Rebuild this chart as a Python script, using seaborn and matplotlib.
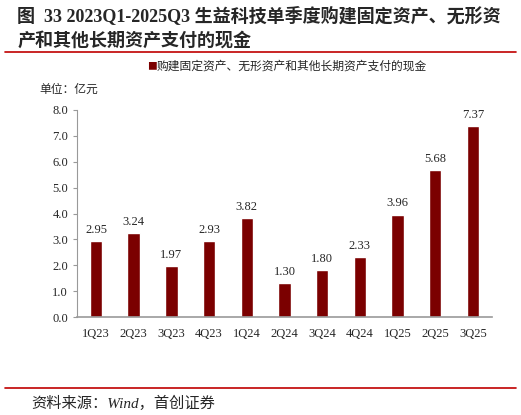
import matplotlib
matplotlib.use("Agg")
import matplotlib.pyplot as plt
import pandas as pd
import seaborn as sns
from matplotlib.lines import Line2D

quarters = ["1Q23", "2Q23", "3Q23", "4Q23", "1Q24", "2Q24", "3Q24", "4Q24", "1Q25", "2Q25", "3Q25"]
values = [2.95, 3.24, 1.97, 2.93, 3.82, 1.30, 1.80, 2.33, 3.96, 5.68, 7.37]
series_name = "购建固定资产、无形资产和其他长期资产支付的现金"

sns.set_style("white")
plt.rcParams["font.family"] = ["Noto Sans CJK SC", "DejaVu Sans"]
serif = ["Liberation Serif", "Noto Sans CJK SC"]
bar_color = "#7B0000"

df = pd.DataFrame({"quarter": quarters, "value": values})

fig = plt.figure(figsize=(5.21, 4.15), dpi=100)
ax = fig.add_axes([0.148, 0.236, 0.796, 0.499])
sns.barplot(data=df, x="quarter", y="value", color=bar_color, width=0.33, saturation=1, ax=ax)

ax.set_ylim(0, 8)
ax.set_yticks([i for i in range(9)])
ax.set_yticklabels([f"{i:.1f}" for i in range(9)], family=serif, fontsize=9)
ax.set_xticks(range(len(quarters)))
ax.set_xticklabels(quarters, family=serif, fontsize=9)
ax.set_xlabel("")
ax.set_ylabel("")
ax.tick_params(axis="y", length=3, color="#999999", direction="out", left=True)
ax.tick_params(axis="x", length=0, pad=8)
for s in ["top", "right"]:
    ax.spines[s].set_visible(False)
ax.spines["left"].set_color("#999999")
ax.spines["bottom"].set_color("#999999")
ax.spines["bottom"].set_linewidth(1.2)

for i, v in enumerate(values):
    ax.text(i, v + 0.2, f"{v:.2f}", ha="center", va="bottom", fontsize=9, family=serif)

fig.text(0.033, 0.962, "图  33 2023Q1-2025Q3 生益科技单季度购建固定资产、无形资", fontsize=13, weight="bold", va="center", family=serif)
fig.text(0.033, 0.903, "产和其他长期资产支付的现金", fontsize=13, weight="bold", va="center", family=serif)
fig.add_artist(Line2D([0.01, 0.99], [0.875, 0.875], color="#C00000", lw=1.2))

fig.text(0.282, 0.84, "■", color=bar_color, fontsize=7, va="center")
fig.text(0.300, 0.84, series_name, fontsize=8.5, va="center")
fig.text(0.075, 0.785, "单位：亿元", fontsize=8.5, va="center")

fig.add_artist(Line2D([0.01, 0.99], [0.065, 0.065], color="#C00000", lw=1.2))
fig.text(0.06, 0.028, "资料来源：Wind，首创证券", fontsize=11, style="italic", va="center", family=serif)

fig.savefig("out.png", dpi=100)
